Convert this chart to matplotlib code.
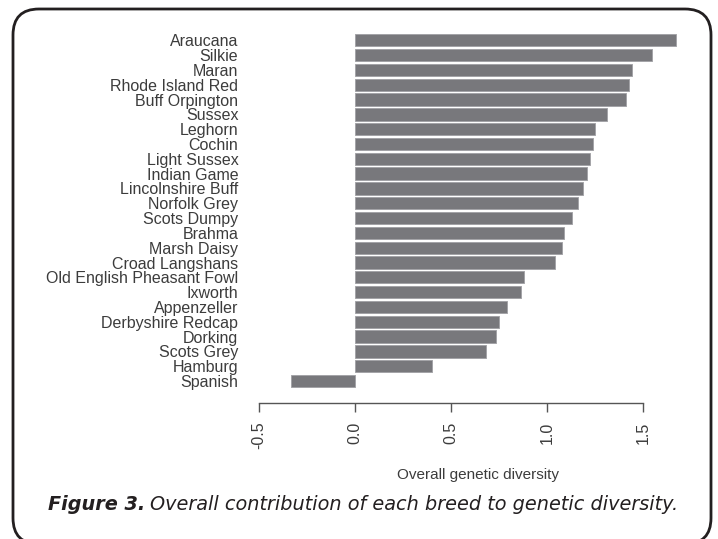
import matplotlib
matplotlib.use("Agg")
import matplotlib.pyplot as plt
from matplotlib.patches import FancyBboxPatch

# breeds, top to bottom as shown
breeds = [
    "Araucana", "Silkie", "Maran", "Rhode Island Red", "Buff Orpington",
    "Sussex", "Leghorn", "Cochin", "Light Sussex", "Indian Game",
    "Lincolnshire Buff", "Norfolk Grey", "Scots Dumpy", "Brahma", "Marsh Daisy",
    "Croad Langshans", "Old English Pheasant Fowl", "Ixworth", "Appenzeller",
    "Derbyshire Redcap", "Dorking", "Scots Grey", "Hamburg", "Spanish",
]
diversity = [
    1.672, 1.545, 1.441, 1.426, 1.411,
    1.311, 1.250, 1.241, 1.224, 1.210,
    1.189, 1.163, 1.129, 1.090, 1.080,
    1.042, 0.880, 0.863, 0.792,
    0.748, 0.733, 0.682, 0.400, -0.333,
]
xticks = [-0.5, 0.0, 0.5, 1.0, 1.5]

TEXT = "#3c3c3c"
BAR = "#78787c"

fig = plt.figure(figsize=(7.18, 5.39), dpi=100)
ax = fig.add_axes([0.3474, 0.2766, 0.615, 0.6651])

# spine placement first: set_position resets the tick objects
for s in ["top", "right", "left"]:
    ax.spines[s].set_visible(False)
ax.spines["bottom"].set_position(("outward", 9.4))
ax.spines["bottom"].set_bounds(-0.5, 1.5)
ax.spines["bottom"].set_color("#555555")
ax.spines["bottom"].set_linewidth(1.0)

n = len(breeds)
ypos = list(range(n - 1, -1, -1))
ax.barh(ypos, diversity, height=0.83, color=BAR, edgecolor="#a4a4a8", linewidth=0.7)

ax.set_xlim(-0.55, 1.75)
ax.set_ylim(-0.6, n - 0.4)

ax.set_yticks(ypos)
ax.set_yticklabels(breeds, family="Liberation Sans", fontsize=11.5, color=TEXT)
ax.tick_params(axis="y", length=0, pad=8)

ax.set_xticks(xticks)
ax.set_xticklabels([f"{v:.1f}" for v in xticks], rotation=90,
                   family="Liberation Sans", fontsize=11.5, color=TEXT)
ax.tick_params(axis="x", length=6.5, width=1.0, color="#555555", pad=7, labelrotation=90)

fig.text(478 / 718, 1 - 475 / 539, "Overall genetic diversity", ha="center", va="center",
         family="Liberation Sans", fontsize=11, color=TEXT)

# caption
cap_y = 1 - 504 / 539
t1 = fig.text(48 / 718, cap_y, "Figure 3.", ha="left", va="center", family="DejaVu Sans",
              fontsize=13.9, fontweight="bold", fontstyle="italic", color="#231f20")
fig.canvas.draw()
bb = t1.get_window_extent()
fig.text(bb.x1 / fig.bbox.width + 0.006, cap_y, "Overall contribution of each breed to genetic diversity.",
         ha="left", va="center", family="DejaVu Sans", fontsize=13.9, fontstyle="italic",
         color="#231f20")

# rounded frame
frame = FancyBboxPatch((0.13, -0.05), 6.98, 5.35, boxstyle="round,pad=0,rounding_size=0.26",
                       transform=fig.dpi_scale_trans, facecolor="none", edgecolor="#231f20",
                       linewidth=2.0, clip_on=False)
fig.patches.append(frame)

fig.savefig("out.png", dpi=100)
